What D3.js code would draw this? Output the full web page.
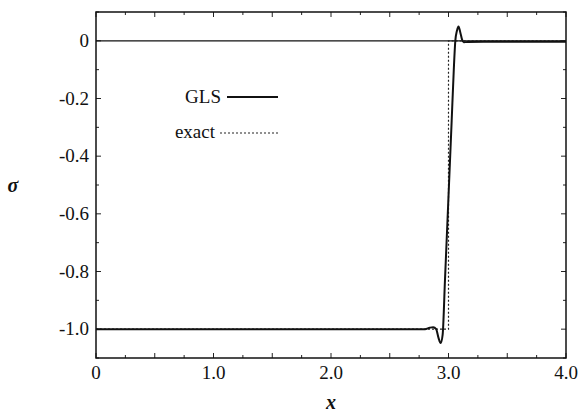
<!DOCTYPE html>
<html>
<head>
<meta charset="utf-8">
<script src="https://cdn.jsdelivr.net/npm/d3@7"></script>
<style>
  body { margin: 0; background: #fff; }
  text { font-family: 'Liberation Serif', 'Times New Roman', serif; fill: #111; }
</style>
</head>
<body>
<div id="chart"></div>
<script>
const WIDTH = 579
const HEIGHT = 418
const margin = { top: 12, right: 13, bottom: 60, left: 96 }

// GLS solution
const glsX = [0, 2.8, 2.84, 2.87, 2.895, 2.915, 2.933, 2.95, 2.97, 3.0, 3.027, 3.045, 3.058, 3.072, 3.085, 3.1, 3.115, 3.13, 3.16, 3.3, 4.0]
const glsY = [-1, -1, -0.995, -0.993, -1.0, -1.03, -1.048, -1.02, -0.83, -0.54, -0.277, -0.1, 0.0, 0.035, 0.05, 0.03, 0.005, -0.005, -0.004, -0.003, -0.003]
// exact step solution
const exactX = [0, 3, 3, 4]
const exactY = [-1, -1, 0, 0]

const xTicks = [0, 1, 2, 3, 4]
const xTickLabels = ['0', '1.0', '2.0', '3.0', '4.0']
const yTicks = [0, -0.2, -0.4, -0.6, -0.8, -1.0]
const yTickLabels = ['0', '-0.2', '-0.4', '-0.6', '-0.8', '-1.0']

const innerW = WIDTH - margin.left - margin.right
const innerH = HEIGHT - margin.top - margin.bottom

const svg = d3.select('#chart')
  .append('svg')
  .attr('width', WIDTH)
  .attr('height', HEIGHT)

const g = svg.append('g')
  .attr('transform', `translate(${margin.left}, ${margin.top})`)

const x = d3.scaleLinear().domain([0, 4]).range([0, innerW])
const y = d3.scaleLinear().domain([-1.1, 0.1]).range([innerH, 0])

// minor ticks, pointing inward, on all four sides
const xMinor = d3.range(0, 4.001, 0.25)
const yMinor = d3.range(-1.1, 0.1001, 0.1)
const tickG = g.append('g').attr('stroke', '#222').attr('stroke-width', 1)
xMinor.forEach(v => {
  const len = Math.abs(v * 2 - Math.round(v * 2)) < 1e-6 ? 5 : 3
  tickG.append('line').attr('x1', x(v)).attr('x2', x(v)).attr('y1', innerH).attr('y2', innerH - len)
  tickG.append('line').attr('x1', x(v)).attr('x2', x(v)).attr('y1', 0).attr('y2', len)
})
yMinor.forEach(v => {
  const len = Math.abs(v * 5 - Math.round(v * 5)) < 1e-6 ? 5 : 3
  tickG.append('line').attr('x1', 0).attr('x2', len).attr('y1', y(v)).attr('y2', y(v))
  tickG.append('line').attr('x1', innerW).attr('x2', innerW - len).attr('y1', y(v)).attr('y2', y(v))
})

// tick labels
g.append('g').selectAll('text')
  .data(xTicks)
  .enter()
  .append('text')
  .attr('x', d => x(d))
  .attr('y', innerH + 21)
  .attr('text-anchor', 'middle')
  .attr('font-size', 19)
  .text((d, i) => xTickLabels[i])

g.append('g').selectAll('text')
  .data(yTicks)
  .enter()
  .append('text')
  .attr('x', -7)
  .attr('y', d => y(d) + 6)
  .attr('text-anchor', 'end')
  .attr('font-size', 19)
  .text((d, i) => yTickLabels[i])

// frame
g.append('rect')
  .attr('width', innerW)
  .attr('height', innerH)
  .attr('fill', 'none')
  .attr('stroke', '#111')
  .attr('stroke-width', 1.5)

// zero line
g.append('line')
  .attr('x1', 0).attr('x2', innerW)
  .attr('y1', y(0)).attr('y2', y(0))
  .attr('stroke', '#111')
  .attr('stroke-width', 1.3)

const line = d3.line()
  .x(d => x(d[0]))
  .y(d => y(d[1]))

g.append('path')
  .datum(exactX.map((v, i) => [v, exactY[i]]))
  .attr('d', line)
  .attr('fill', 'none')
  .attr('stroke', '#222')
  .attr('stroke-width', 1.2)
  .attr('stroke-dasharray', '2,2')

g.append('path')
  .datum(glsX.map((v, i) => [v, glsY[i]]))
  .attr('d', line.curve(d3.curveMonotoneX))
  .attr('fill', 'none')
  .attr('stroke', '#111')
  .attr('stroke-width', 2)

// legend
const legend = svg.append('g')
legend.append('text')
  .attr('x', 221).attr('y', 103)
  .attr('text-anchor', 'end')
  .attr('font-size', 19)
  .text('GLS')
legend.append('line')
  .attr('x1', 227).attr('x2', 278).attr('y1', 97).attr('y2', 97)
  .attr('stroke', '#111').attr('stroke-width', 2)
legend.append('text')
  .attr('x', 215).attr('y', 138)
  .attr('text-anchor', 'end')
  .attr('font-size', 19)
  .text('exact')
legend.append('line')
  .attr('x1', 220).attr('x2', 278).attr('y1', 133).attr('y2', 133)
  .attr('stroke', '#222').attr('stroke-width', 1.2)
  .attr('stroke-dasharray', '2,2')

// axis titles
svg.append('text')
  .attr('x', 331).attr('y', 409)
  .attr('text-anchor', 'middle')
  .attr('font-size', 20)
  .attr('font-style', 'italic')
  .attr('font-weight', 'bold')
  .text('x')

svg.append('text')
  .attr('x', 13).attr('y', 192)
  .attr('text-anchor', 'middle')
  .attr('font-size', 20)
  .attr('font-style', 'italic')
  .attr('font-weight', 'bold')
  .text('σ')
</script>
</body>
</html>
